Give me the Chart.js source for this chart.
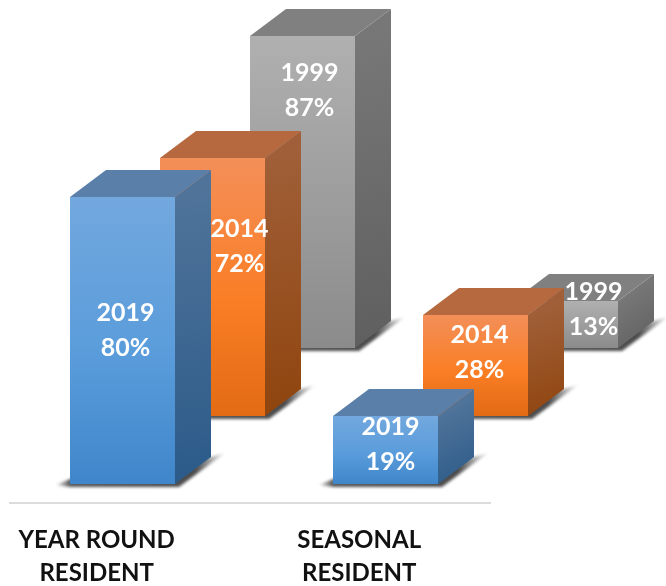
<!DOCTYPE html>
<html>
<head>
<meta charset="utf-8">
<title>Year round and seasonal residents</title>
<script src="https://cdn.jsdelivr.net/npm/chart.js@4"></script>
<style>
    html, body { margin: 0; padding: 0; background: #fff; }
    canvas { display: block; }
</style>
</head>
<body>
<canvas id="myChart" width="666" height="586"></canvas>
<script>
const categories = [['YEAR ROUND', 'RESIDENT'], ['SEASONAL', 'RESIDENT']];
const years = ['2019', '2014', '1999'];
const values2019 = [80, 19];
const values2014 = [72, 28];
const values1999 = [87, 13];
const allValues = [values2019, values2014, values1999];

// how far back each year sits, and the depth of one box
const rowShift = [[0, 0], [90, -68], [180, -136]];
const depthX = 36;
const depthY = -27;

// label spot for each box, measured from the middle of its top edge (hand placed, same as the picture)
const labelNudge = [
    [[3, 116], [5, 11]],
    [[27, 71], [4, 20]],
    [[7, 37], [28, -9]]
];

const palette = [
    { face: ['#72a8de', '#5a9cdb', '#3f86ca'], top: '#5a7fa9', side: ['#4f7399', '#2b5a89'] },
    { face: ['#f38f59', '#fa7e25', '#e26b14'], top: '#b6693f', side: ['#a05f38', '#8f440d'] },
    { face: ['#b0b0b0', '#9c9c9c', '#8b8b8b'], top: '#808080', side: ['#777777', '#5f5f5f'] }
];

function poly(ctx, pts) {
    ctx.beginPath();
    ctx.moveTo(pts[0][0], pts[0][1]);
    for (let i = 1; i < pts.length; i++) ctx.lineTo(pts[i][0], pts[i][1]);
    ctx.closePath();
}

function drawBox(ctx, el, rowIndex, catIndex) {
    const shift = rowShift[rowIndex];
    const colors = palette[rowIndex];
    // whole pixels so the box edges stay crisp
    const left = Math.round(el.x - el.width / 2 + shift[0]);
    const right = Math.round(el.x + el.width / 2 + shift[0]);
    const top = Math.round(el.y + shift[1]);
    const bottom = Math.round(el.base + shift[1]);

    // floor shadow, sticks out on both sides of the box
    ctx.save();
    ctx.filter = 'blur(1.5px)';
    const spread = right + 50 - (left - 14);
    const shade = ctx.createLinearGradient(left - 14, 0, right + 50, 0);
    shade.addColorStop(0, 'rgba(0,0,0,0.1)');
    shade.addColorStop(14 / spread, 'rgba(0,0,0,0.65)');
    shade.addColorStop((right - left + 14 + 20) / spread, 'rgba(0,0,0,0.7)');
    shade.addColorStop(1, 'rgba(0,0,0,0.05)');
    ctx.fillStyle = shade;
    poly(ctx, [[left - 14, bottom + 1], [left, bottom - 5], [right + depthX, bottom + depthY],
        [right + 50, bottom - 31], [right + 4, bottom + 3], [left, bottom + 3]]);
    ctx.fill();
    ctx.restore();

    // side
    const sideFill = ctx.createLinearGradient(right, top, right + depthX, bottom);
    sideFill.addColorStop(0, colors.side[0]);
    sideFill.addColorStop(1, colors.side[1]);
    ctx.fillStyle = sideFill;
    poly(ctx, [[right, top], [right + depthX, top + depthY], [right + depthX, bottom + depthY], [right, bottom]]);
    ctx.fill();

    // top
    ctx.fillStyle = colors.top;
    poly(ctx, [[left, top], [left + depthX, top + depthY], [right + depthX, top + depthY], [right, top]]);
    ctx.fill();

    // front
    const faceFill = ctx.createLinearGradient(0, top, 0, bottom);
    faceFill.addColorStop(0, colors.face[0]);
    faceFill.addColorStop(0.55, colors.face[1]);
    faceFill.addColorStop(1, colors.face[2]);
    ctx.fillStyle = faceFill;
    ctx.fillRect(left, top, right - left, bottom - top);

    // label
    const nudge = labelNudge[rowIndex][catIndex];
    const labelX = (left + right) / 2 + nudge[0];
    const labelY = top + nudge[1];
    ctx.fillStyle = '#ffffff';
    ctx.font = 'bold 25px Lato';
    ctx.textAlign = 'center';
    ctx.textBaseline = 'middle';
    ctx.fillText(years[rowIndex], labelX, labelY);
    ctx.fillText(allValues[rowIndex][catIndex] + '%', labelX, labelY + 35);
}

// boxes are painted here rather than by the stock bar element
const boxPlugin = {
    id: 'boxPlugin',
    beforeDatasetDraw(chart, args) {
        args.meta.data.forEach((el, i) => drawBox(chart.ctx, el, args.index, i));
        return false;
    }
};

const points = (values) => values.map((v, i) => ({ x: i, y: v }));

new Chart(document.getElementById('myChart'), {
    type: 'bar',
    data: {
        datasets: [
            { label: years[0], data: points(values2019), backgroundColor: palette[0].face[1] },
            { label: years[1], data: points(values2014), backgroundColor: palette[1].face[1] },
            { label: years[2], data: points(values1999), backgroundColor: palette[2].face[1] }
        ]
    },
    plugins: [boxPlugin],
    options: {
        responsive: false,
        animation: false,
        layout: { padding: { left: 10, right: 176, top: 0, bottom: 0 } },
        datasets: { bar: { grouped: false, barThickness: 105 } },
        plugins: { legend: { display: false }, tooltip: { enabled: false } },
        scales: {
            x: {
                type: 'linear',
                offset: false,
                min: -0.429,
                max: 1.399,
                afterBuildTicks: (scale) => { scale.ticks = categories.map((c, i) => ({ value: i })); },
                afterFit: (scale) => { scale.height = 83; },
                grid: { drawOnChartArea: false, drawTicks: false },
                border: { display: true, color: '#dcdcdc', width: 2 },
                ticks: {
                    autoSkip: false,
                    maxRotation: 0,
                    padding: 21,
                    labelOffset: -26,
                    color: '#111111',
                    font: { family: 'Lato', weight: 'bold', size: 24, lineHeight: 33 / 24 },
                    callback: (value) => categories[value]
                }
            },
            y: {
                display: false,
                min: -5.29,
                max: 134.83
            }
        }
    }
});
</script>
</body>
</html>
